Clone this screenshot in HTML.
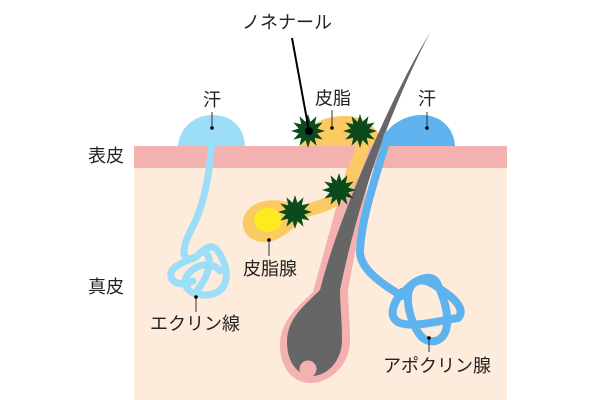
<!DOCTYPE html>
<html><head><meta charset="utf-8"><style>
html,body{margin:0;padding:0;background:#fff;}
svg{display:block;}
text{font-family:"Liberation Sans","Noto Sans CJK JP",sans-serif;font-size:18px;fill:#222;}
</style></head><body>
<svg width="600" height="400" viewBox="0 0 600 400" xmlns="http://www.w3.org/2000/svg">
<defs>
<polygon id="star" fill="#0B4A1D" points="17,0 9.18,2.46 14.72,8.5 6.72,6.72 8.5,14.72 2.46,9.18 0,17 -2.46,9.18 -8.5,14.72 -6.72,6.72 -14.72,8.5 -9.18,2.46 -17,0 -9.18,-2.46 -14.72,-8.5 -6.72,-6.72 -8.5,-14.72 -2.46,-9.18 0,-17 2.46,-9.18 8.5,-14.72 6.72,-6.72 14.72,-8.5 9.18,-2.46"/>
</defs>
<!-- dermis -->
<rect x="134" y="166" width="373" height="234" fill="#FDEBDC"/>
<!-- domes -->
<path d="M178 148 C178 128 195 115 212 115 C232 115 245 128 245 148 Z" fill="#9CDDF7"/>
<path d="M378 148 C385 125 405 115 422 115 C440 115 455 128 455 148 Z" fill="#5EB3EE"/>
<path d="M300 148 C305 125 322 116 345 116 C365 116 380 128 384 148 Z" fill="#FBCA63"/>
<!-- epidermis -->
<rect x="134" y="146" width="373" height="22" fill="#F3B1AF"/>
<!-- follicle -->
<path d="M352 150 L313 292 C300 305 280 320 280 345 C280 370 295 383 310 383 C330 383 350 365 350 340 C350 320 348 305 348 290 L374 150 Z" fill="#F3B1AF"/>
<!-- sebaceous gland & duct -->
<path d="M366 132 C360 160 352 178 343 192 C335 203 318 208 296 213" fill="none" stroke="#FBCA63" stroke-width="13" stroke-linecap="round"/>
<path d="M298 207 C280 196 252 198 244 216 C238 234 255 246 272 241 C285 237 293 228 302 220 Z" fill="#FBCA63"/>
<ellipse cx="268" cy="220" rx="14" ry="12" fill="#FDEA1F"/>
<!-- hair -->
<path d="M430 33 C400 80 340 210 320 290 C305 305 287 318 287 342 C287 362 297 374 310 376 C326 377 342 362 342 340 C342 320 340 305 340 290 C350 240 365 190 380 147 C390 120 410 70 430 33 Z" fill="#666666"/>
<circle cx="308" cy="369" r="8.5" fill="#F3B1AF"/>
<!-- apocrine duct -->
<path d="M388 135 C375 180 362 215 360 250 C359 268 380 283 402 296" fill="none" stroke="#5EB3EE" stroke-width="8" stroke-linecap="round"/>
<path d="M402 292 C392 305 388 318 400 323 C415 328 442 320 458 318 C466 310 455 298 440 289 C430 281 418 276 411 286 C404 297 410 322 420 335 C428 345 442 343 446 330 C450 316 444 298 437 283 C431 272 414 280 404 292" fill="none" stroke="#5EB3EE" stroke-width="8" stroke-linecap="round" stroke-linejoin="round"/>
<!-- eccrine duct -->
<path d="M212 140 C210 170 205 200 195 222 C188 236 184 244 184 252" fill="none" stroke="#9CDDF7" stroke-width="7" stroke-linecap="round"/>
<path d="M184 250 C183 258 190 262 197 256 C204 249 211 243 217 250 C223 258 229 271 225 283 C221 294 208 297 196 294 C186 291 181 282 189 273 C197 264 212 261 220 271 M197 256 C188 261 173 265 171 273 C169 283 183 287 193 281 M206 253 C214 262 206 279 198 289" fill="none" stroke="#9CDDF7" stroke-width="7" stroke-linecap="round" stroke-linejoin="round"/>
<!-- stars -->
<use href="#star" x="308" y="131"/>
<use href="#star" x="360" y="131"/>
<use href="#star" x="339" y="190"/>
<use href="#star" x="295" y="212"/>
<!-- leaders -->
<line x1="292" y1="38" x2="309" y2="131" stroke="#000" stroke-width="2"/>
<circle cx="309" cy="131" r="4" fill="#000"/>
<g stroke="#333" stroke-width="1">
<line x1="332" y1="110" x2="332" y2="128"/>
<line x1="212" y1="112" x2="212" y2="128"/>
<line x1="427" y1="112" x2="427" y2="128"/>
<line x1="269" y1="240" x2="269" y2="256"/>
<line x1="196" y1="297" x2="196" y2="312"/>
<line x1="429" y1="338" x2="429" y2="352"/>
</g>
<g fill="#000">
<circle cx="332" cy="128" r="1.8"/>
<circle cx="212" cy="128" r="1.8"/>
<circle cx="427" cy="128" r="1.8"/>
<circle cx="269" cy="240" r="1.8"/>
<circle cx="196" cy="297" r="1.8"/>
<circle cx="429" cy="338" r="1.8"/>
</g>
<!-- labels -->
<text x="287" y="28.5" text-anchor="middle">ノネナール</text>
<text x="333" y="104.5" text-anchor="middle">皮脂</text>
<text x="212" y="106" text-anchor="middle">汗</text>
<text x="427" y="105" text-anchor="middle">汗</text>
<text x="106" y="162" text-anchor="middle">表皮</text>
<text x="106" y="293" text-anchor="middle">真皮</text>
<text x="270" y="275" text-anchor="middle">皮脂腺</text>
<text x="195" y="330" text-anchor="middle">エクリン線</text>
<text x="437" y="372" text-anchor="middle">アポクリン腺</text>
</svg>
</body></html>
